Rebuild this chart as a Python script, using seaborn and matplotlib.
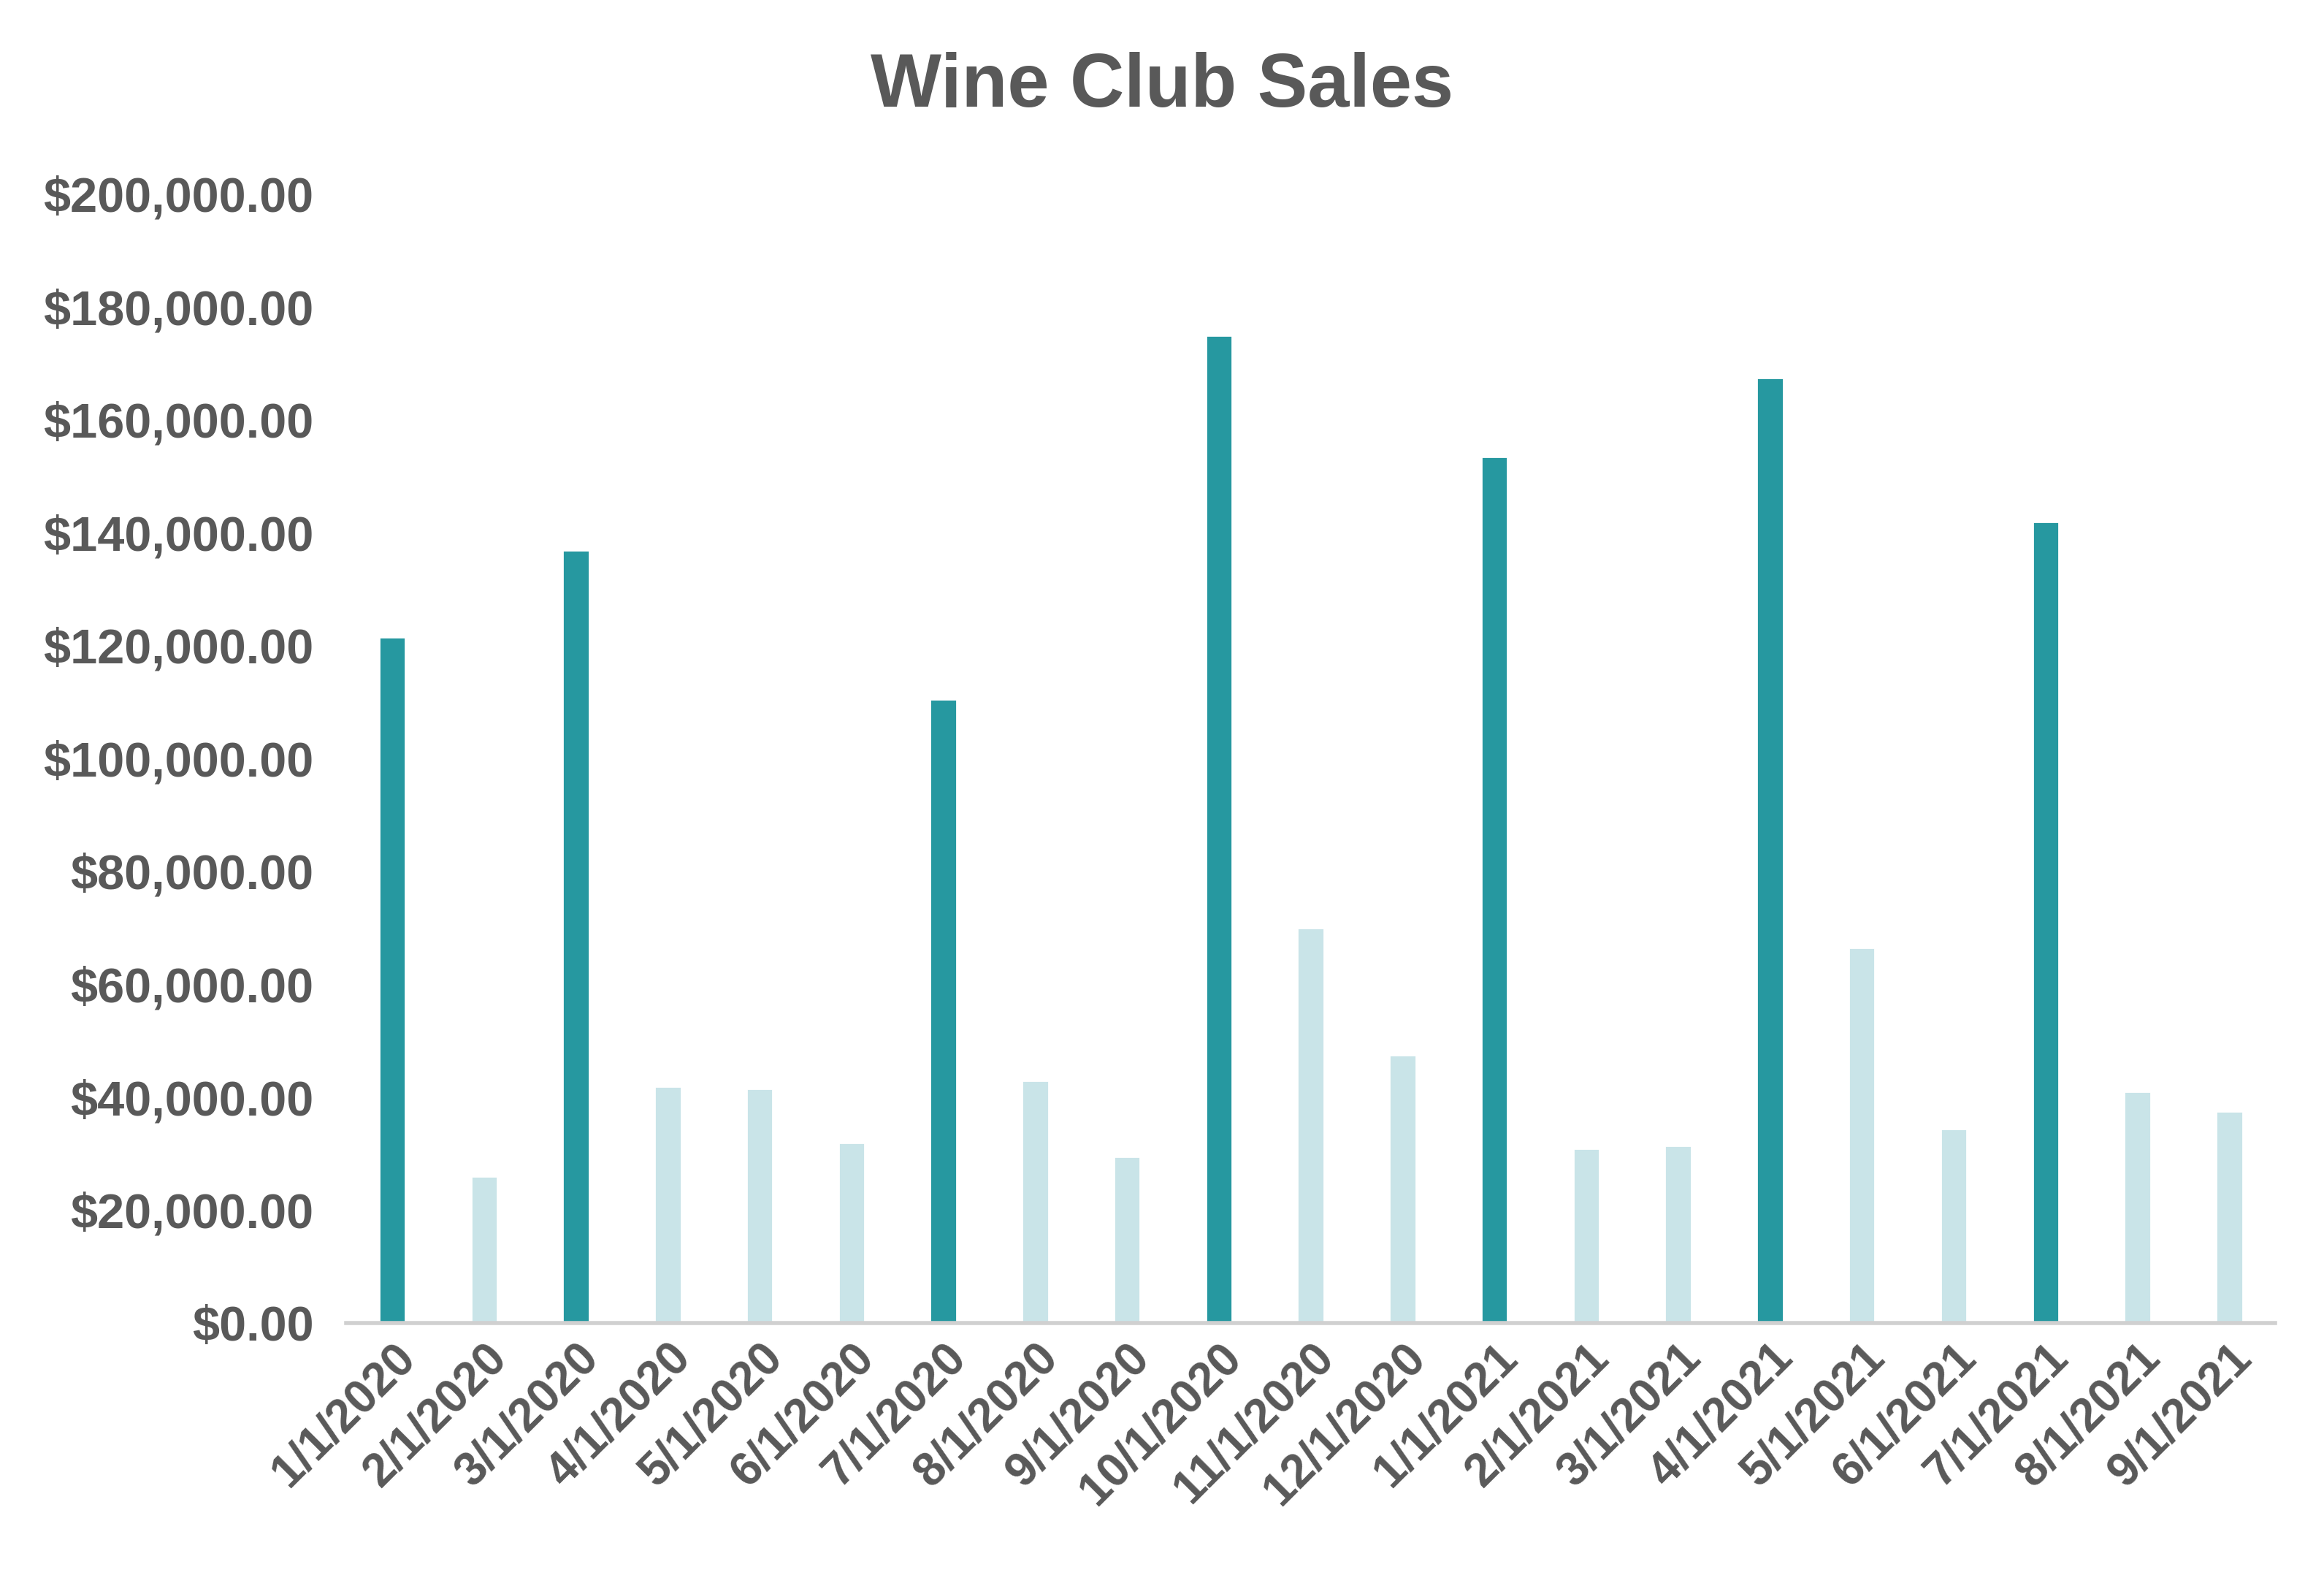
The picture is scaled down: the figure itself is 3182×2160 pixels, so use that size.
import matplotlib
matplotlib.use("Agg")
import matplotlib.pyplot as plt
import seaborn as sns
import pandas as pd
from matplotlib.ticker import FuncFormatter

dates = ["1/1/2020","2/1/2020","3/1/2020","4/1/2020","5/1/2020","6/1/2020","7/1/2020",
         "8/1/2020","9/1/2020","10/1/2020","11/1/2020","12/1/2020","1/1/2021","2/1/2021",
         "3/1/2021","4/1/2021","5/1/2021","6/1/2021","7/1/2021","8/1/2021","9/1/2021"]
sales = [121500,26000,137000,42000,41500,32000,110500,43000,29500,175000,70000,47500,
         153500,31000,31500,167500,66500,34500,142000,41000,37500]
highlight = ["High","Low","High","Low","Low","Low","High","Low","Low","High","Low","Low",
             "High","Low","Low","High","Low","Low","High","Low","Low"]

sns.set_theme(style="white")
plt.rcParams['font.family'] = ['Liberation Sans', 'DejaVu Sans']
df = pd.DataFrame({"date": dates, "sales": sales, "kind": highlight})

fig = plt.figure(figsize=(15.91, 10.8), dpi=200)
ax = fig.add_axes([0.149, 0.1615, 0.83, 0.7155])
sns.barplot(data=df, x="date", y="sales", hue="kind", palette={"High": "#2698a0", "Low": "#c9e4e8"},
            dodge=False, width=0.29, legend=False, ax=ax, saturation=1)
ax.set_ylim(0, 200000)
ax.set_yticks(range(0, 200001, 20000))
ax.yaxis.set_major_formatter(FuncFormatter(lambda v, p: f"${v:,.2f}"))
ax.set_xlim(-0.5, len(dates) - 0.5)
grey = "#595959"
ax.tick_params(axis="y", labelsize=24, labelcolor=grey, length=0, pad=16)
ax.tick_params(axis="x", labelsize=23, labelcolor=grey, length=0, pad=6)
for t in ax.get_yticklabels():
    t.set_fontweight("bold")
for t in ax.get_xticklabels():
    t.set_fontweight("bold"); t.set_rotation(45); t.set_ha("right"); t.set_rotation_mode("anchor")
ax.set_xlabel(""); ax.set_ylabel("")
for s in ["top", "right", "left"]:
    ax.spines[s].set_visible(False)
ax.spines["bottom"].set_color("#d0d0d0")
ax.spines["bottom"].set_linewidth(2)
fig.suptitle("Wine Club Sales", y=0.967, fontsize=37, fontweight="bold", color=grey)
fig.savefig("out.png", dpi=200, facecolor="white")
